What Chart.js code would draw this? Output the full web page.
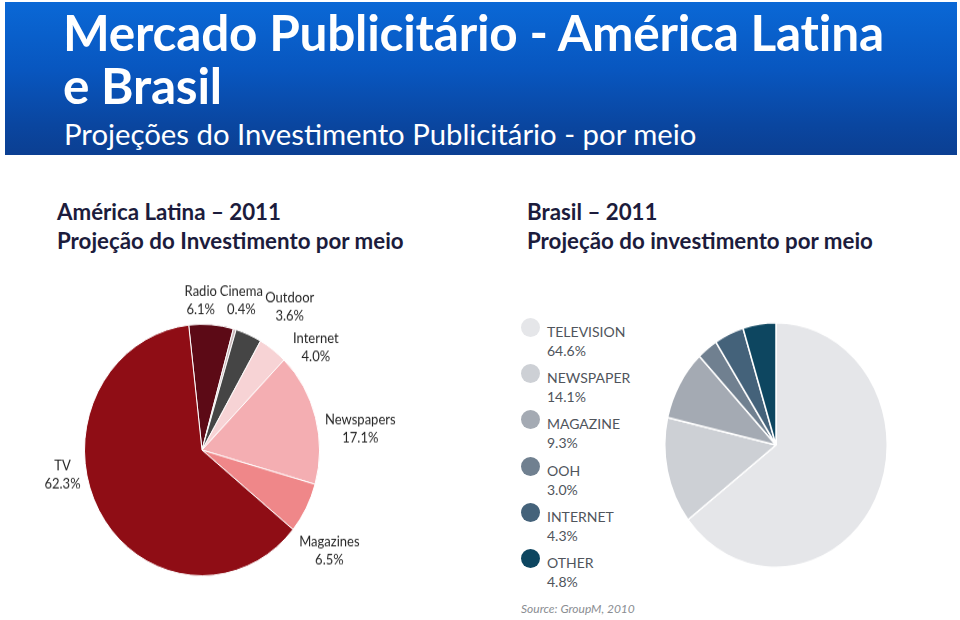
<!DOCTYPE html>
<html>
<head>
<meta charset="utf-8">
<script src="https://cdn.jsdelivr.net/npm/chart.js@4"></script>
<style>
	body {
		margin: 0;
		width: 960px;
		height: 620px;
		background: #ffffff;
		position: relative;
		overflow: hidden;
		font-family: Lato, "Open Sans", sans-serif;
	}

	.header {
		position: absolute;
		left: 5px;
		top: 2px;
		width: 952px;
		height: 153px;
		background: linear-gradient(#0a68d6 0%, #0856bf 45%, #0a46a0 80%, #0b3f92 100%);
	}

	.title {
		position: absolute;
		left: 58px;
		top: 4px;
		color: #ffffff;
		font-weight: bold;
		font-size: 49.5px;
		line-height: 53px;
		letter-spacing: -0.2px;
	}

	.subtitle {
		position: absolute;
		left: 59px;
		top: 115px;
		color: #ffffff;
		font-size: 29.3px;
		line-height: 34px;
		font-weight: 400;
	}

	.section {
		position: absolute;
		top: 197px;
		color: #1c1c3c;
		font-weight: bold;
		font-size: 22.3px;
		line-height: 29px;
	}

	.pie_wrap {
		position: absolute;
	}

	.legend_row {
		position: absolute;
		left: 521px;
		font-size: 14px;
		color: #50555c;
		line-height: 19px;
	}

	.legend_dot {
		position: absolute;
		left: 0;
		top: -12px;
		width: 19px;
		height: 19px;
		border-radius: 50%;
	}

	.legend_text {
		position: absolute;
		left: 26px;
		top: -8px;
		white-space: nowrap;
	}

	.source {
		position: absolute;
		left: 521px;
		top: 601px;
		font-size: 12px;
		font-style: italic;
		color: #8a8d92;
	}
</style>
</head>
<body>
<div class="header">
	<div class="title">Mercado Publicitário - América Latina<br>e Brasil</div>
	<div class="subtitle">Projeções do Investimento Publicitário - por meio</div>
</div>

<div class="section" style="left: 57px;">América Latina – 2011<br>Projeção do Investimento por meio</div>
<div class="section" style="left: 527px;">Brasil – 2011<br>Projeção do investimento por meio</div>

<div class="pie_wrap" id="latam_wrap" style="left: 22px; top: 280px; width: 400px; height: 340px; transform: scaleY(1.07); transform-origin: 180px 170px;">
	<canvas id="latam_chart" width="400" height="340"></canvas>
</div>

<div class="pie_wrap" id="brasil_wrap" style="left: 661px; top: 330px; width: 230px; height: 230px; transform: scaleY(1.1); transform-origin: 115px 115px;">
	<canvas id="brasil_chart" width="230" height="230"></canvas>
</div>

<div id="brasil_legend"></div>
<div class="source">Source: GroupM, 2010</div>

<script>
// América Latina 2011
const latam_labels = ["Radio", "Cinema", "Outdoor", "Internet", "Newspapers", "Magazines", "TV"]
const latam_values = [6.1, 0.4, 3.6, 4.0, 17.1, 6.5, 62.3]
const latam_colors = ["#5c0a16", "#c9b8ba", "#454545", "#f7d3d5", "#f4aeb2", "#ef8789", "#8f0d15"]

// Brasil 2011
const brasil_labels = ["TELEVISION", "NEWSPAPER", "MAGAZINE", "OOH", "INTERNET", "OTHER"]
const brasil_values = [64.6, 14.1, 9.3, 3.0, 4.3, 4.8]
const brasil_colors = ["#e5e6e9", "#cdd0d5", "#a4aab3", "#708090", "#44627a", "#0d4660"]

/**
 * Draw name + percent outside every slice
 */
const outside_labels = {
	id: "outside_labels",
	afterDatasetsDraw(chart, args, opts) {
		if (!opts.display) {
			return
		}

		const ctx = chart.ctx
		const meta = chart.getDatasetMeta(0)
		const values = chart.data.datasets[0].data

		ctx.save()
		ctx.font = opts.font
		ctx.fillStyle = opts.color
		ctx.textAlign = "center"
		ctx.textBaseline = "middle"

		meta.data.forEach((arc, i) => {
			const nudge = (opts.nudges[i] || 0) * Math.PI / 180
			const mid = (arc.startAngle + arc.endAngle) / 2 + nudge
			const dist = arc.outerRadius + (opts.distances[i] || 32)
			const x = arc.x + Math.cos(mid) * dist
			const y = arc.y + Math.sin(mid) * dist

			ctx.fillText(chart.data.labels[i], x, y - 8.5)
			ctx.fillText(values[i].toFixed(1) + "%", x, y + 8.5)
		})

		ctx.restore()
	}
}

Chart.register(outside_labels)

new Chart(document.getElementById("latam_chart"), {
	type: "pie",
	data: {
		labels: latam_labels,
		datasets: [{
			data: latam_values,
			backgroundColor: latam_colors,
			borderColor: "#ffffff",
			borderWidth: 1
		}]
	},
	options: {
		responsive: false,
		animation: false,
		rotation: -6.5,
		layout: {
			padding: { left: 62, right: 102, top: 52, bottom: 52 }
		},
		plugins: {
			legend: { display: false },
			tooltip: { enabled: false },
			outside_labels: {
				display: true,
				font: "13px Lato, 'Open Sans', sans-serif",
				color: "#262626",
				nudges: [-5, -0.5, 10, 13, 8, 9, 19],
				distances: [22, 28, 42, 31, 42, 41, 24]
			}
		}
	}
})

new Chart(document.getElementById("brasil_chart"), {
	type: "pie",
	data: {
		labels: brasil_labels,
		datasets: [{
			data: brasil_values,
			backgroundColor: brasil_colors,
			borderColor: "#ffffff",
			borderWidth: 1.5
		}]
	},
	options: {
		responsive: false,
		animation: false,
		layout: {
			padding: 3
		},
		plugins: {
			legend: { display: false },
			tooltip: { enabled: false },
			outside_labels: { display: false }
		}
	}
})

// Legend for the Brasil pie, built from the same arrays
const legend = document.getElementById("brasil_legend")
const legend_top = 330
const legend_step = 46.2

brasil_labels.forEach((label, i) => {
	const row = document.createElement("div")
	row.className = "legend_row"
	row.style.top = (legend_top + i * legend_step) + "px"
	row.innerHTML = `<div class="legend_dot" style="background: ${brasil_colors[i]};"></div>` +
		`<div class="legend_text">${label}<br>${brasil_values[i].toFixed(1)}%</div>`
	legend.appendChild(row)
})
</script>
</body>
</html>
